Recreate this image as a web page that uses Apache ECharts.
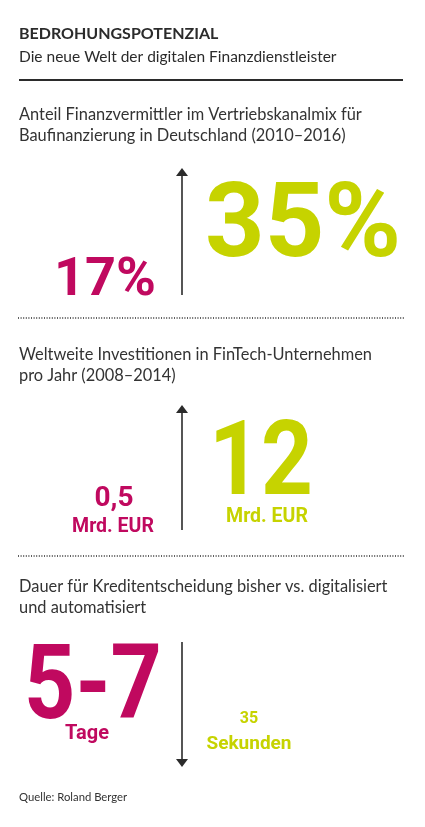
<!DOCTYPE html>
<html lang="de">
<head>
<meta charset="UTF-8">
<title>Bedrohungspotenzial</title>
<script src="https://cdn.jsdelivr.net/npm/echarts@6/dist/echarts.min.js"></script>
<style>
  html, body { margin: 0; padding: 0; background: #fff; }
  #chart { width: 425px; height: 827px; }
</style>
</head>
<body>
<div id="chart"></div>
<script>
// Daten
const headline = 'BEDROHUNGSPOTENZIAL';
const subline = 'Die neue Welt der digitalen Finanzdienstleister';
const sectionTitles = [
  'Anteil Finanzvermittler im Vertriebskanalmix für\nBaufinanzierung in Deutschland (2010–2016)',
  'Weltweite Investitionen in FinTech-Unternehmen\npro Jahr (2008–2014)',
  'Dauer für Kreditentscheidung bisher vs. digitalisiert\nund automatisiert'
];
const beforeValues = ['17%', '0,5', '5-7'];
const beforeUnits = ['', 'Mrd. EUR', 'Tage'];
const afterValues = ['35%', '12', '35'];
const afterUnits = ['', 'Mrd. EUR', 'Sekunden'];
const arrowDirections = ['up', 'up', 'down'];
const source = 'Quelle: Roland Berger';

const MAGENTA = '#c0095f';
const LIME = '#c6d300';
const DARK = '#2b2b2b';
const BODY_FONT = 'Lato, "Open Sans", sans-serif';
const NUM_FONT = 'Roboto, "Open Sans", sans-serif';

let chart = echarts.init(document.getElementById('chart'), null, { renderer: 'canvas' });

function txt(x, y, text, size, color, weight, align, family, extra) {
  return Object.assign({
    type: 'text', x: x, y: y,
    style: {
      text: text, fontSize: size, fill: color, fontWeight: weight || 'normal',
      fontFamily: family || BODY_FONT, align: align || 'left', verticalAlign: 'middle',
      lineHeight: Math.round(size * 1.35)
    }
  }, extra || {});
}

function arrow(x, y1, y2, dir) {
  // y1 = oben, y2 = unten
  let tipY = dir === 'up' ? y1 : y2;
  let s = dir === 'up' ? 1 : -1;
  return [
    { type: 'line', shape: { x1: x, y1: dir === 'up' ? y1 + 6 : y1, x2: x, y2: dir === 'up' ? y2 : y2 - 6 },
      style: { stroke: DARK, lineWidth: 1.6 } },
    { type: 'polygon', shape: { points: [[x, tipY], [x - 6, tipY + 8 * s], [x + 6, tipY + 8 * s]] },
      style: { fill: DARK } }
  ];
}

// Abschnittslayout (y-Positionen)
const sections = [
  { titleY: 125, arrowTop: 168, arrowBot: 295, divider: 318 },
  { titleY: 365, arrowTop: 405, arrowBot: 530, divider: 556 },
  { titleY: 597, arrowTop: 642, arrowBot: 767, divider: null }
];

let elements = [];
elements.push(txt(19, 34, headline, 16, DARK, 'bold'));
elements.push(txt(19, 57, subline, 15.5, DARK, 'normal'));
elements.push({ type: 'line', shape: { x1: 19, y1: 80, x2: 403, y2: 80 }, style: { stroke: DARK, lineWidth: 2 } });

sections.forEach(function (s, i) {
  let t = txt(19, s.titleY, sectionTitles[i], 16.4, '#333', 'normal');
  t.style.lineHeight = 21;
  elements.push(t);
  elements = elements.concat(arrow(182, s.arrowTop, s.arrowBot, arrowDirections[i]));
  if (s.divider) {
    elements.push({ type: 'line', shape: { x1: 18, y1: s.divider, x2: 404, y2: s.divider },
      style: { stroke: DARK, lineWidth: 1.4, lineDash: [1, 1.6] } });
  }
});

// Abschnitt 1
elements.push(txt(156, 281, beforeValues[0], 54, MAGENTA, 'bold', 'right', NUM_FONT));
elements.push(txt(205, 230, afterValues[0], 104, LIME, 'bold', 'left', NUM_FONT));
// Abschnitt 2
elements.push(txt(114, 499, beforeValues[1], 28, MAGENTA, 'bold', 'center', NUM_FONT));
elements.push(txt(113, 527, beforeUnits[1], 19.5, MAGENTA, 'bold', 'center', NUM_FONT));
elements.push(txt(261, 468, afterValues[1], 104, LIME, 'bold', 'center', NUM_FONT, { scaleX: 0.87, originX: 0, originY: 0 }));
elements.push(txt(267, 517, afterUnits[1], 19.5, LIME, 'bold', 'center', NUM_FONT));
// Abschnitt 3
elements.push(txt(93, 692, beforeValues[2], 104, MAGENTA, 'bold', 'center', NUM_FONT, { scaleX: 0.86, originX: 0, originY: 0 }));
elements.push(txt(87, 734, beforeUnits[2], 20, MAGENTA, 'bold', 'center', NUM_FONT));
elements.push(txt(249, 719, afterValues[2], 16, LIME, 'bold', 'center', NUM_FONT));
elements.push(txt(249, 744, afterUnits[2], 19, LIME, 'bold', 'center', NUM_FONT));

elements.push(txt(19, 797, source, 11.3, '#333', 'normal'));

chart.setOption({
  animation: false,
  backgroundColor: '#ffffff',
  graphic: { elements: elements }
});
</script>
</body>
</html>
